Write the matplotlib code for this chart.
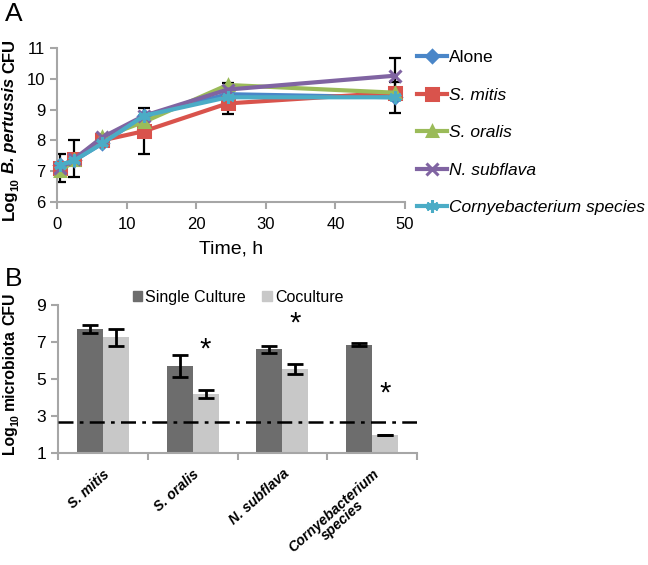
import matplotlib
matplotlib.use("Agg")
import matplotlib.pyplot as plt
import numpy as np
from matplotlib.lines import Line2D
from matplotlib.patches import Patch

plt.rcParams['font.family'] = ['Liberation Sans', 'DejaVu Sans']

# ---------------- Panel A data ----------------
time_h = [0.5, 2.5, 6.5, 12.5, 24.5, 48.5]
series_names = ["Alone", "S. mitis", "S. oralis", "N. subflava", "Cornyebacterium species"]
alone = [7.2, 7.35, 7.9, 8.8, 9.5, 9.4]
s_mitis = [7.1, 7.4, 8.0, 8.3, 9.2, 9.55]
s_oralis = [7.0, 7.35, 8.1, 8.6, 9.8, 9.55]
n_subflava = [7.1, 7.4, 8.1, 8.8, 9.65, 10.1]
cornye = [7.2, 7.35, 7.9, 8.8, 9.4, 9.4]
alone_err = [0, 0, 0, 0, 0, 0.5]
s_mitis_err = [0.45, 0.6, 0.18, 0.75, 0.35, 0]
s_oralis_err = [0, 0, 0, 0, 0.05, 0]
n_subflava_err = [0, 0, 0, 0, 0, 0.57]
cornye_err = [0, 0, 0, 0, 0, 0]

# ---------------- Panel B data ----------------
species = ["S. mitis", "S. oralis", "N. subflava", "Cornyebacterium\nspecies"]
single_culture = [7.7, 5.7, 6.6, 6.85]
single_err = [0.2, 0.6, 0.17, 0.08]
coculture = [7.25, 4.2, 5.55, 2.0]
coculture_err = [0.45, 0.2, 0.28, 0.0]
detection_limit = 2.7
star_y = [None, 6.6, 8.0, 4.2]

W, H = 648, 565
fig = plt.figure(figsize=(W/100, H/100), dpi=100)
spine_col = '#a6a6a6'


def rot_label(x_px, yc_px, pieces, fs):
    """Vertical multi-style label; pieces = (text, style, is_subscript, gap_after)."""
    renderer = fig.canvas.get_renderer()
    px_per_pt = fig.dpi / 72.0
    texts, lens = [], []
    for txt, style, sub, gap in pieces:
        size = fs * 0.68 if sub else fs
        t = fig.text(0, 0, txt, rotation=90, rotation_mode='anchor', ha='left',
                     va='baseline', fontsize=size, fontweight='bold', fontstyle=style)
        texts.append(t)
        L = t.get_window_extent(renderer).height
        lens.append(L + gap * fs * px_per_pt)
    total = sum(lens)
    y = yc_px + total / 2.0
    for t, L, (txt, style, sub, gap) in zip(texts, lens, pieces):
        xb = x_px + (0.28 * fs * px_per_pt if sub else 0)
        t.set_position((xb / W, 1 - y / H))
        y -= L


# ---------- Panel A ----------
axA = fig.add_axes([57/W, 1-202/H, 348/W, 154/H])
colors = ['#4a86c8', '#d9534c', '#9bbb59', '#8064a2', '#4bacc6']
markers = ['D', 's', '^', 'x', (6, 2, 0)]
msizes = [6, 8, 7, 8, 9]
datas = [alone, s_mitis, s_oralis, n_subflava, cornye]
errs = [alone_err, s_mitis_err, s_oralis_err, n_subflava_err, cornye_err]
handles = []
for name, d, e, c, m, ms in zip(series_names, datas, errs, colors, markers, msizes):
    axA.errorbar(time_h, d, yerr=e, fmt='none', ecolor='black', elinewidth=1.6,
                 capsize=4, capthick=1.6, zorder=2)
    axA.plot(time_h, d, color=c, lw=3, marker=m, ms=ms, mec=c, mew=2.2, zorder=3,
             clip_on=False)
    handles.append(Line2D([0], [0], color=c, lw=3, marker=m, ms=ms, mec=c, mew=2.2))

axA.set_xlim(0, 50)
axA.set_ylim(6, 11)
axA.set_xticks([0, 10, 20, 30, 40, 50])
axA.set_yticks([6, 7, 8, 9, 10, 11])
for s in ['top', 'right']:
    axA.spines[s].set_visible(False)
for s in ['left', 'bottom']:
    axA.spines[s].set_color(spine_col)
    axA.spines[s].set_linewidth(1.5)
axA.tick_params(axis='both', colors=spine_col, labelcolor='black', labelsize=12,
                length=5, width=1.5, direction='out')
axA.tick_params(axis='x', pad=6)
axA.set_xlabel("Time, h", fontsize=14, labelpad=6)

leg = axA.legend(handles, series_names, loc='upper left', bbox_to_anchor=(1.015, 1.03),
                 frameon=False, fontsize=12.5, handlelength=1.7, handletextpad=0.15,
                 labelspacing=1.28, borderaxespad=0)
for i, t in enumerate(leg.get_texts()):
    if i > 0:
        t.set_style('italic')

fig.text(5/W, 1-21/H, "A", fontsize=19, ha='left', va='baseline')

# ---------- Panel B ----------
axB = fig.add_axes([58/W, 1-453/H, 359/W, 148/H])
x = np.arange(len(species))
w = 0.29
axB.bar(x - w/2, single_culture, width=w, color='#6d6d6d', zorder=2)
axB.bar(x + w/2, coculture, width=w, color='#c8c8c8', zorder=2)
axB.errorbar(x - w/2, single_culture, yerr=single_err, fmt='none', ecolor='black',
             elinewidth=2, capsize=6, capthick=2, zorder=3)
axB.errorbar(x + w/2, coculture, yerr=coculture_err, fmt='none', ecolor='black',
             elinewidth=2, capsize=6, capthick=2, zorder=3)
axB.axhline(detection_limit, color='black', lw=1.8, ls=(0, (6, 2.5, 1.5, 2.5)), zorder=4)
for xi, sy in zip(x, star_y):
    if sy is not None:
        axB.text(xi + w/2, sy, '*', fontsize=21, ha='center', va='center')

axB.set_xlim(-0.5, len(species) - 0.5)
axB.set_ylim(1, 9)
axB.set_yticks([1, 3, 5, 7, 9])
axB.set_xticks(np.arange(len(species) + 1) - 0.5)
axB.set_xticklabels([])
axB.set_xticks(x, minor=True)
axB.set_xticklabels(species, minor=True, rotation=42, ha='right', va='top',
                    rotation_mode='anchor', fontsize=10.2, fontweight='bold',
                    fontstyle='italic', multialignment='center', linespacing=0.9)
axB.tick_params(axis='x', which='minor', length=0, pad=10)
for s in ['top', 'right']:
    axB.spines[s].set_visible(False)
for s in ['left', 'bottom']:
    axB.spines[s].set_color(spine_col)
    axB.spines[s].set_linewidth(1.5)
axB.tick_params(axis='both', which='major', colors=spine_col, labelcolor='black',
                labelsize=12.5, length=5, width=1.5, direction='out')

legB = axB.legend([Patch(color='#6d6d6d'), Patch(color='#c8c8c8')],
                  ["Single Culture", "Coculture"], loc='center left',
                  bbox_to_anchor=(0.19, 1.054), ncol=2, frameon=False, fontsize=11.5,
                  handlelength=0.6, handleheight=0.6, handletextpad=0.2,
                  columnspacing=1.0, borderaxespad=0)

fig.text(5/W, 1-286/H, "B", fontsize=19, ha='left', va='baseline')

# ---------- rotated axis labels ----------
rot_label(14, 129.5, [("Log", 'normal', False, -0.08),
                      ("10", 'normal', True, 0.28),
                      ("B. pertussis", 'italic', False, 0.28),
                      ("CFU", 'normal', False, 0.0)], 12)
rot_label(14, 373, [("Log", 'normal', False, -0.08),
                    ("10", 'normal', True, 0.28),
                    ("microbiota", 'normal', False, 0.28),
                    ("CFU", 'normal', False, 0.0)], 11.3)

fig.savefig("out.png", dpi=100)
